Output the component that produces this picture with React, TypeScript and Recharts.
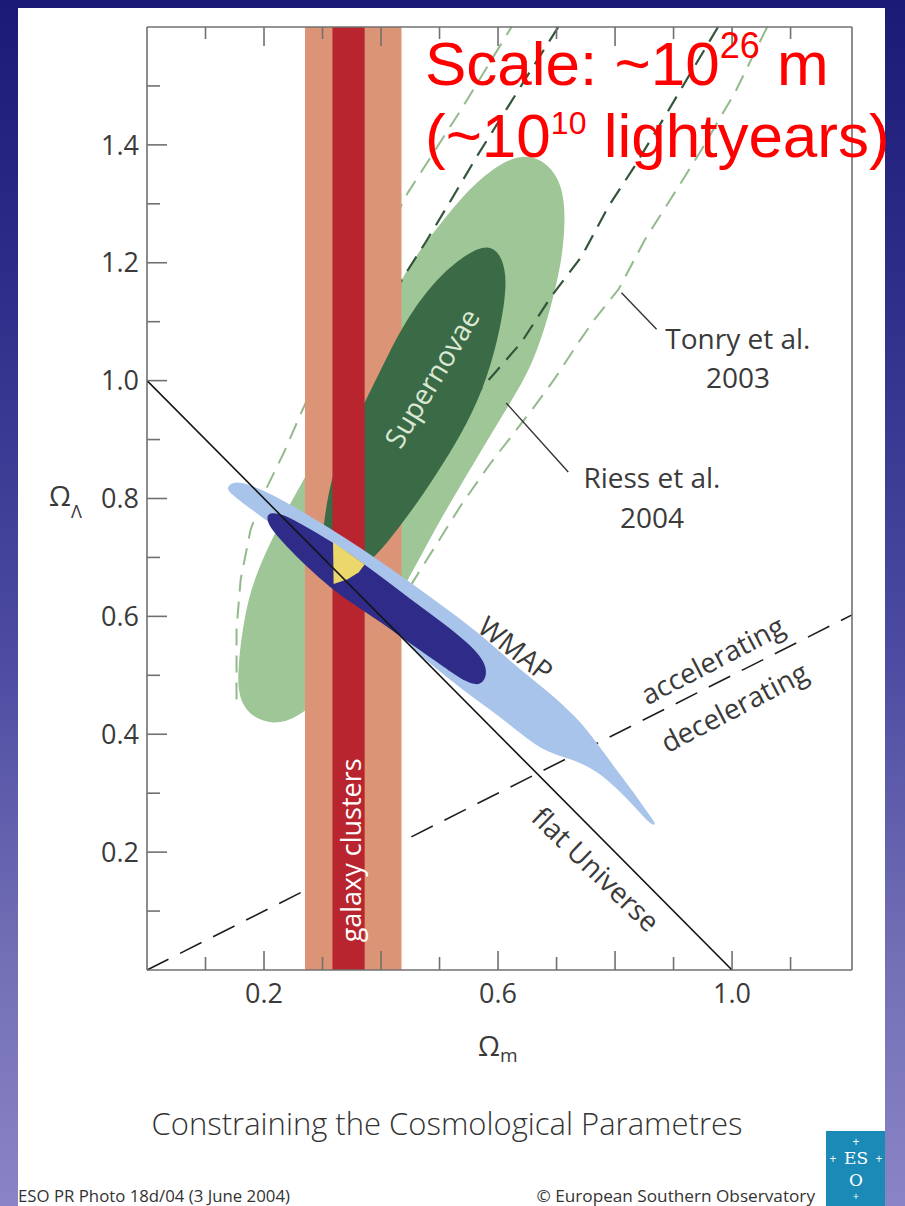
import React from 'react';
import { ComposedChart, XAxis, YAxis, ReferenceArea, Curve, Scatter } from 'recharts';

type P = { om: number; ol: number };
const pts = (a: number[][]): P[] => a.map(([om, ol]) => ({ om, ol }));

// ---------- axes ----------
const X_DOMAIN: [number, number] = [0, 1.205];
const Y_DOMAIN: [number, number] = [0, 1.6];
const xTicks = [0.1, 0.2, 0.3, 0.4, 0.5, 0.6, 0.7, 0.8, 0.9, 1.0, 1.1];
const yTicks = [0.1, 0.2, 0.3, 0.4, 0.5, 0.6, 0.7, 0.8, 0.9, 1.0, 1.1, 1.2, 1.3, 1.4, 1.5];
const xTickLabels = [0.2, 0.6, 1.0];
const yTickLabels = [0.2, 0.4, 0.6, 0.8, 1.0, 1.2, 1.4];

// ---------- constraints (Omega_m, Omega_Lambda) ----------
const clusterOuter = [0.27, 0.435];
const clusterInner = [0.317, 0.372];

const riessOuter = pts([
  [0.645, 1.387], [0.688, 1.367], [0.708, 1.333], [0.715, 1.29], [0.712, 1.222], [0.696, 1.143],
  [0.662, 1.03], [0.617, 0.956], [0.559, 0.861], [0.491, 0.747], [0.438, 0.645], [0.383, 0.56],
  [0.314, 0.475], [0.263, 0.432], [0.223, 0.415], [0.177, 0.429], [0.156, 0.463], [0.155, 0.509],
  [0.165, 0.594], [0.182, 0.662], [0.215, 0.735], [0.251, 0.803], [0.297, 0.883], [0.366, 1.036],
  [0.439, 1.183], [0.48, 1.239], [0.537, 1.312], [0.593, 1.363],
]);

const riessInner = pts([
  [0.583, 1.231], [0.605, 1.214], [0.614, 1.18], [0.612, 1.137], [0.6, 1.07], [0.575, 0.985],
  [0.537, 0.908], [0.494, 0.84], [0.451, 0.777], [0.408, 0.721], [0.374, 0.687], [0.348, 0.667],
  [0.324, 0.653], [0.307, 0.662], [0.299, 0.696], [0.3, 0.747], [0.314, 0.835], [0.34, 0.9],
  [0.372, 0.962], [0.408, 1.036], [0.446, 1.109], [0.498, 1.177], [0.549, 1.217],
]);

const wmapOuter = pts([
  [0.136, 0.818], [0.146, 0.828], [0.168, 0.827], [0.223, 0.803], [0.28, 0.769], [0.336, 0.735],
  [0.395, 0.696], [0.451, 0.657], [0.508, 0.616], [0.566, 0.573], [0.623, 0.522], [0.679, 0.478],
  [0.737, 0.427], [0.772, 0.381], [0.799, 0.344], [0.833, 0.3], [0.859, 0.262], [0.871, 0.247],
  [0.863, 0.244], [0.833, 0.278], [0.789, 0.322], [0.755, 0.346], [0.72, 0.359], [0.674, 0.373],
  [0.628, 0.41], [0.588, 0.441], [0.545, 0.471], [0.503, 0.505], [0.451, 0.546], [0.4, 0.597],
  [0.348, 0.641], [0.297, 0.687], [0.246, 0.73], [0.203, 0.764], [0.168, 0.789], [0.141, 0.81],
]);

const wmapInner = pts([
  [0.208, 0.777], [0.232, 0.774], [0.263, 0.757], [0.318, 0.726], [0.372, 0.688], [0.434, 0.642],
  [0.486, 0.603], [0.528, 0.572], [0.559, 0.545], [0.576, 0.524], [0.582, 0.502], [0.571, 0.482],
  [0.547, 0.487], [0.508, 0.514], [0.451, 0.553], [0.4, 0.59], [0.348, 0.624], [0.314, 0.648],
  [0.271, 0.686], [0.237, 0.72], [0.213, 0.747], [0.204, 0.765],
]);

const concordance = pts([
  [0.318, 0.726], [0.372, 0.688], [0.362, 0.675], [0.343, 0.663], [0.319, 0.655],
]);

const tonryOuterLeft = pts([
  [0.153, 0.459], [0.153, 0.578], [0.16, 0.662], [0.177, 0.747], [0.203, 0.815], [0.234, 0.878],
  [0.266, 0.951], [0.314, 1.053], [0.383, 1.197], [0.446, 1.319], [0.537, 1.46], [0.623, 1.6],
]);
const tonryOuterRight = pts([
  [1.06, 1.6], [1.005, 1.489], [0.948, 1.392], [0.902, 1.319], [0.851, 1.239], [0.806, 1.155],
  [0.765, 1.104], [0.737, 1.064], [0.696, 1.002], [0.662, 0.956], [0.628, 0.912], [0.588, 0.861],
  [0.537, 0.789], [0.494, 0.721], [0.451, 0.653],
]);
const tonryInnerLeft = pts([
  [0.703, 1.6], [0.657, 1.528], [0.611, 1.455], [0.566, 1.384], [0.52, 1.307], [0.477, 1.236],
  [0.439, 1.177], [0.42, 1.143],
]);
const tonryInnerRight = pts([
  [0.976, 1.6], [0.931, 1.525], [0.885, 1.448], [0.833, 1.363], [0.789, 1.296], [0.743, 1.211],
  [0.691, 1.143], [0.64, 1.065], [0.597, 1.016], [0.563, 0.977],
]);

const flatUniverse = pts([[0, 1], [1, 0]]);
const accelDecel = pts([[0, 0], [1.205, 0.6025]]);
const tonryPointer = pts([[0.811, 1.149], [0.871, 1.087]]);
const riessPointer = pts([[0.614, 0.962], [0.72, 0.845]]);

// label anchors (Omega_m, Omega_Lambda)
const labelAnchors = [
  { text: 'Tonry et al.', om: 1.01, ol: 1.053 },
  { text: '2003', om: 1.01, ol: 0.988 },
  { text: 'Riess et al.', om: 0.863, ol: 0.818 },
  { text: '2004', om: 0.863, ol: 0.75 },
  { text: 'Supernovae', om: 0.486, ol: 1.005 },
  { text: 'WMAP', om: 0.631, ol: 0.546 },
  { text: 'accelerating', om: 0.966, ol: 0.527 },
  { text: 'decelerating', om: 1.003, ol: 0.447 },
  { text: 'flat Universe', om: 0.768, ol: 0.172 },
  { text: 'galaxy clusters', om: 0.347, ol: 0.203 },
];

// ---------- styles ----------
const FONT = '"Open Sans", "DejaVu Sans", sans-serif';
const AXIS = '#707070';
const TXT = '#3a3a3a';
const C = {
  salmon: '#dc9477',
  red: '#b8252e',
  lightGreen: '#9fc697',
  darkGreen: '#3b6b46',
  lightBlue: '#a9c4ea',
  darkBlue: '#2f2b88',
  yellow: '#ecd86a',
  tonryDark: '#33553b',
  tonryLight: '#93b98d',
};
const labelStyle: Record<string, { angle: number; color: string; size: number; base: string }> = {
  'Tonry et al.': { angle: 0, color: TXT, size: 28, base: 'auto' },
  '2003': { angle: 0, color: TXT, size: 28, base: 'auto' },
  'Riess et al.': { angle: 0, color: TXT, size: 28, base: 'auto' },
  '2004': { angle: 0, color: TXT, size: 28, base: 'auto' },
  Supernovae: { angle: -59, color: '#dbe9d4', size: 28, base: 'central' },
  WMAP: { angle: 38, color: TXT, size: 28, base: 'central' },
  accelerating: { angle: -27.5, color: TXT, size: 28, base: 'central' },
  decelerating: { angle: -27.5, color: TXT, size: 28, base: 'central' },
  'flat Universe': { angle: 44, color: TXT, size: 28, base: 'central' },
  'galaxy clusters': { angle: -90, color: '#ffffff', size: 27, base: 'central' },
};

const near = (a: number, list: number[]) => list.some((t) => Math.abs(t - a) < 1e-6);
const major = (v: number) => Math.round(v * 10) % 2 === 0;

const LeftTick = (p: any) => {
  const v = p.payload.value;
  const len = major(v) ? 20 : 13;
  return (
    <g>
      <line x1={p.x} x2={p.x + len} y1={p.y} y2={p.y} stroke={AXIS} strokeWidth={1.6} />
      {near(v, yTickLabels) && (
        <text x={p.x - 8} y={p.y} dy="0.36em" textAnchor="end" fontFamily={FONT} fontSize={27} fill={TXT}>
          {v.toFixed(1)}
        </text>
      )}
    </g>
  );
};
const BottomTick = (p: any) => {
  const v = p.payload.value;
  const len = major(v) ? 19 : 13;
  return (
    <g>
      <line x1={p.x} x2={p.x} y1={p.y} y2={p.y - len} stroke={AXIS} strokeWidth={1.6} />
      {near(v, xTickLabels) && (
        <text x={p.x} y={p.y + 33} textAnchor="middle" fontFamily={FONT} fontSize={27} fill={TXT}>
          {v.toFixed(1)}
        </text>
      )}
    </g>
  );
};
const TopTick = (p: any) => {
  const v = p.payload.value;
  const len = major(v) ? 19 : 12;
  return <line x1={p.x} x2={p.x} y1={p.y} y2={p.y + len} stroke={AXIS} strokeWidth={1.6} />;
};

type XY = { x: number; y: number };
function area(key: string, data: P[], render: (points: XY[]) => React.ReactElement) {
  const xs = data.map((d) => d.om);
  const ys = data.map((d) => d.ol);
  const x0 = Math.min(...xs), x1 = Math.max(...xs), y0 = Math.min(...ys), y1 = Math.max(...ys);
  return (
    <ReferenceArea
      key={key}
      xAxisId="b"
      yAxisId="l"
      x1={x0}
      x2={x1}
      y1={y0}
      y2={y1}
      ifOverflow="visible"
      shape={(r: any) => {
        const w = x1 - x0 || 1;
        const h = y1 - y0 || 1;
        const points = data.map((d) => ({
          x: r.x + ((d.om - x0) / w) * r.width,
          y: r.y + ((y1 - d.ol) / h) * r.height,
        }));
        return render(points);
      }}
    />
  );
}

const blob = (fill: string) => (points: XY[]) => (
  <Curve points={points} type="basisClosed" fill={fill} fillOpacity={1} stroke="none" />
);
const poly = (fill: string) => (points: XY[]) => (
  <Curve points={points} type="linearClosed" fill={fill} fillOpacity={1} stroke="none" />
);
const dashed = (stroke: string, dash: string, width: number) => (points: XY[]) => (
  <Curve points={points} type="linear" fill="none" stroke={stroke} strokeWidth={width} strokeDasharray={dash} />
);
const solid = (stroke: string, width: number) => (points: XY[]) => (
  <Curve points={points} type="linear" fill="none" stroke={stroke} strokeWidth={width} />
);

// the full plotting frame, used to place the labels through the same scales
const domainFrame = pts([[X_DOMAIN[0], Y_DOMAIN[0]], [X_DOMAIN[1], Y_DOMAIN[1]]]);

const labelsLayer = (points: XY[]) => {
  const [p0, p1] = points; // p0 = (xmin, ymin), p1 = (xmax, ymax) in pixels
  const mx = (om: number) => p0.x + ((om - X_DOMAIN[0]) / (X_DOMAIN[1] - X_DOMAIN[0])) * (p1.x - p0.x);
  const my = (ol: number) => p0.y + ((ol - Y_DOMAIN[0]) / (Y_DOMAIN[1] - Y_DOMAIN[0])) * (p1.y - p0.y);
  return (
    <g>
      {labelAnchors.map((l) => {
        const s = labelStyle[l.text];
        const x = mx(l.om);
        const y = my(l.ol);
        return (
          <text
            key={l.text}
            x={x}
            y={y}
            textAnchor="middle"
            dominantBaseline={s.base}
            transform={s.angle ? `rotate(${s.angle} ${x} ${y})` : undefined}
            fontFamily={FONT}
            fontSize={s.size}
            fill={s.color}
          >
            {l.text}
          </text>
        );
      })}
    </g>
  );
};

const NoDot = () => <g />;

export default function App() {
  return (
    <div
      style={{
        position: 'absolute',
        left: 0,
        top: 0,
        width: 905,
        height: 1206,
        overflow: 'hidden',
        background: 'linear-gradient(180deg, #1b1a77 0%, #2f2e8a 25%, #4d4ca2 55%, #7470b6 80%, #8a84c6 100%)',
      }}
    >
      <div style={{ position: 'absolute', left: 18, top: 8, width: 867, height: 1198, background: '#ffffff' }} />
      <div style={{ position: 'absolute', left: 0, top: 0 }}>
        <ComposedChart
          width={905}
          height={1206}
          data={flatUniverse}
          margin={{ top: 26, right: 52, bottom: 176, left: 87 }}
        >
          <XAxis
            xAxisId="b"
            dataKey="om"
            type="number"
            orientation="bottom"
            domain={X_DOMAIN}
            allowDataOverflow
            ticks={xTicks}
            interval={0}
            height={60}
            tickSize={0}
            tickMargin={0}
            tickLine={false}
            tick={(p: any) => <BottomTick {...p} />}
            axisLine={{ stroke: AXIS, strokeWidth: 1.6 }}
          />
          <XAxis
            xAxisId="t"
            dataKey="om"
            type="number"
            orientation="top"
            domain={X_DOMAIN}
            allowDataOverflow
            ticks={xTicks}
            interval={0}
            height={1}
            tickSize={0}
            tickMargin={0}
            tickLine={false}
            tick={(p: any) => <TopTick {...p} />}
            axisLine={{ stroke: AXIS, strokeWidth: 1.6 }}
          />
          <YAxis
            yAxisId="l"
            dataKey="ol"
            type="number"
            orientation="left"
            domain={Y_DOMAIN}
            allowDataOverflow
            ticks={yTicks}
            interval={0}
            width={60}
            tickSize={0}
            tickMargin={0}
            tickLine={false}
            tick={(p: any) => <LeftTick {...p} />}
            axisLine={{ stroke: AXIS, strokeWidth: 1.6 }}
          />
          <YAxis
            yAxisId="r"
            dataKey="ol"
            type="number"
            orientation="right"
            domain={Y_DOMAIN}
            allowDataOverflow
            ticks={yTicks}
            width={1}
            tick={false}
            tickLine={false}
            axisLine={{ stroke: AXIS, strokeWidth: 1.6 }}
          />

          {area('riessOuter', riessOuter, blob(C.lightGreen))}
          {area('accel', accelDecel, dashed('#1e1e1e', '24 13', 1.6))}
          {area('tol', tonryOuterLeft, dashed(C.tonryLight, '17 10', 2))}
          {area('tor', tonryOuterRight, dashed(C.tonryLight, '17 10', 2))}
          {area('til', tonryInnerLeft, dashed(C.tonryDark, '17 10', 2.2))}
          {area('tir', tonryInnerRight, dashed(C.tonryDark, '17 10', 2.2))}
          <ReferenceArea
            xAxisId="b"
            yAxisId="l"
            x1={clusterOuter[0]}
            x2={clusterOuter[1]}
            y1={Y_DOMAIN[0]}
            y2={Y_DOMAIN[1]}
            fill={C.salmon}
            fillOpacity={1}
            stroke="none"
            ifOverflow="visible"
          />
          {area('riessInner', riessInner, blob(C.darkGreen))}
          <ReferenceArea
            xAxisId="b"
            yAxisId="l"
            x1={clusterInner[0]}
            x2={clusterInner[1]}
            y1={Y_DOMAIN[0]}
            y2={Y_DOMAIN[1]}
            fill={C.red}
            fillOpacity={1}
            stroke="none"
            ifOverflow="visible"
          />
          {area('wmapOuter', wmapOuter, blob(C.lightBlue))}
          {area('wmapInner', wmapInner, blob(C.darkBlue))}
          {area('concordance', concordance, poly(C.yellow))}
          {area('tp', tonryPointer, solid('#333333', 1.4))}
          {area('rp', riessPointer, solid('#333333', 1.4))}
          {area('labels', domainFrame, labelsLayer)}
          <Scatter
            xAxisId="b"
            yAxisId="l"
            data={flatUniverse}
            dataKey="ol"
            line={{ stroke: '#141414', strokeWidth: 1.6 }}
            lineType="joint"
            shape={NoDot}
            isAnimationActive={false}
          />
        </ComposedChart>
      </div>
      <svg
        width={905}
        height={1206}
        style={{ position: 'absolute', left: 0, top: 0, pointerEvents: 'none' }}
      >
        <text x={49} y={506} fontFamily={FONT} fontSize={28} fill={TXT}>
          Ω<tspan fontSize={18} dy={12}>Λ</tspan>
        </text>
        <text x={478} y={1056} fontFamily={FONT} fontSize={28} fill={TXT}>
          Ω<tspan fontSize={19} dy={6}>m</tspan>
        </text>
        <text x={447} y={1135} textAnchor="middle" fontFamily={FONT} fontSize={31} fontWeight={300} fill="#333">
          Constraining the Cosmological Parametres
        </text>
        <text x={18} y={1202} fontFamily={FONT} fontSize={16.8} fill="#333">
          ESO PR Photo 18d/04 (3 June 2004)
        </text>
        <text x={815} y={1202} textAnchor="end" fontFamily={FONT} fontSize={17.2} fill="#333">
          © European Southern Observatory
        </text>
        <rect x={826} y={1131} width={59} height={75} fill="#1c8ab7" />
        <text x={856} y={1164} textAnchor="middle" fontFamily="DejaVu Serif, serif" fontSize={17} fill="#fff">
          ES
        </text>
        <text x={856} y={1186} textAnchor="middle" fontFamily="DejaVu Serif, serif" fontSize={17} fill="#fff">
          O
        </text>
        <text x={856} y={1146} textAnchor="middle" fontFamily={FONT} fontSize={12} fill="#fff">+</text>
        <text x={833} y={1163} textAnchor="middle" fontFamily={FONT} fontSize={12} fill="#fff">+</text>
        <text x={879} y={1163} textAnchor="middle" fontFamily={FONT} fontSize={12} fill="#fff">+</text>
        <text x={856} y={1200} textAnchor="middle" fontFamily={FONT} fontSize={11} fill="#fff">+</text>
        <text x={425} y={85} fontFamily="Liberation Sans, Arial, sans-serif" fontSize={62} fill="#ff0000">
          Scale: ~10<tspan fontSize={36} dy={-27}>26</tspan>
          <tspan dy={27}> m</tspan>
        </text>
        <text x={425} y={157} fontFamily="Liberation Sans, Arial, sans-serif" fontSize={62} fill="#ff0000">
          (~10<tspan fontSize={32} dy={-23}>10</tspan>
          <tspan dy={23}> lightyears)</tspan>
        </text>
      </svg>
    </div>
  );
}
